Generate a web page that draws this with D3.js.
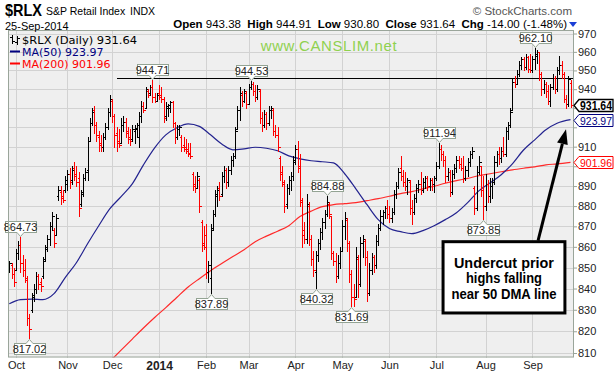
<!DOCTYPE html>
<html><head><meta charset="utf-8">
<script src="https://cdnjs.cloudflare.com/ajax/libs/d3/7.8.5/d3.min.js"></script>
<style>body{margin:0;background:#fff;}svg{display:block;}</style>
</head><body>
<svg id="c" width="616" height="374"></svg>
<script>
// ---- DATA (daily bars, 26-Sep-2013 .. 25-Sep-2014) ----
const opens = [850,851,847,849,857,861,852,849,844,826,830,836,840,846,843,846,854,860,864,870,868,866,885,887,885,888,891,896,893,899,896,894,881,887,894,898,913,922,929,921,915,912,910,915,920,928,934,926,917,913,912,921,923,918,915,914,918,919,915,926,931,930,939,938,941,936,934,938,937,935,926,930,930,933,922,915,919,915,911,910,909,907,896,891,889,893,872,862,866,848,845,869,876,885,889,886,895,898,892,898,903,905,919,929,937,934,938,932,941,943,939,936,939,925,921,927,922,929,929,918,916,904,897,891,881,889,893,895,902,909,900,882,868,864,880,864,854,848,856,862,867,872,876,881,875,857,853,846,852,858,870,873,862,847,836,836,854,842,862,863,855,838,849,855,851,863,869,875,877,879,876,874,877,886,890,899,895,892,890,892,879,877,884,889,891,888,892,894,890,893,891,894,900,909,906,903,895,897,887,896,899,903,901,899,894,898,902,906,889,879,897,900,888,880,891,885,890,892,902,906,904,908,906,918,921,929,944,943,948,953,956,952,957,951,950,956,958,960,948,940,943,939,934,941,946,940,950,953,948,935,932,943.38];
const highs = [853,852,850,859,863,864.73,856,854,846,828,838,842,848,847,845,855,861,866,872,877,869,876,890,890,888,895,898,899,900,902,900,897,888,896,899,915,925,930,931,923,918,916,917,922,930,937,935,927,920,919,925,926,925,920,919,921,921,922,928,934,933,941,940,942,944.71,938,938,942,941,936,933,932,934,934,923,921,921,916,915,914,912,912,897,895,897,894,873,870,871,853,871,878,888,890,892,897,900,899,900,905,907,920,931,941,939,940,939,943,944.53,944,942,942,940,928,929,928,931,931,930,921,920,905,900,893,891,895,897,905,911,913,906,884,872,886,882,866,858,858,864,869,874,878,884.88,882,875,858,857,856,860,873,877,874,863,849,842,860,856,865,866,864,858,852,857,856,866,871,878,878,880,883,880,879,888,892,899,905,898,897,894,893,883,886,891,893,897,894,895,895,894,894,895,902,911.94,911,908,905,899,898,898,901,905,905,904,905,900,904,908,910,890,900,905,900,895,896,893,894,894,905,908,910,910,915,920,923,930,946,947,950,955,957,957,959,958,959,958,962.10,961,960,949,945,944,942,943,948,947,952,958,955,949,937,947,944.91];
const lows = [848,845,841,849,854,848,846,843,823,817.02,829,834,838,840,839,845,853,858,861,868,860,866,883,881,882,887,888,889,891,893,890,875,880,885,893,893,913,921,917,913,908,908,908,914,919,926,923,910,908,910,912,918,915,912,911,913,912,915,910,923,928,930,936,937,933,933,934,935,933,923,924,926,928,920,912,914,916,908,908,907,905,904,888,887,889,877,858,859,845,843,837.89,868,875,880,883,885,892,889,890,896,900,904,919,924,931,933,930,932,940,937,934,935,922,918,920,919,921,925,916,915,908,893,890,877,879,886,888,893,901,897,880,860,862,862,861,851,846,840.32,853,859,864,869,875,874,854,851,843,845,850,858,864,858,843,831.69,832,836,836,841,855,851,834,837,847,848,850,861,868,871,874,874,872,872,876,884,889,893,890,888,886,876,871,876,882,887,886,887,889,888,888,888,887,893,899,903,900,892,893,885,886,894,897,899,898,892,893,895,900,904,876,878,896,885,873.85,878,882,882,884,891,900,901,902,905,905,914,920,929,941,943,947,951,950,951,949,949,949,951,954,945,937,938,936,932,931,940,938,939,948,946,933,930,931,930.80];
const closes = [852,847,843,857,861,852,849,845,826,821,837,840,846,842,841,853,859,864,870,875,862,874,888,884,883,893,896,892,898,895,892,879,886,894,897,913,922,928,921,916,911,910,915,920,928,935,926,916,912,911,921,923,917,914,913,919,919.5,921,926,931,929,940,937,941,936,934,937,936,935,925,931,931.5,933,922,915,919,920,910,909,908,906,905,890,889,895,880,861,860,848,851,868,876,886,888,885,895,898,892,898,903,905,918,929,938,934,939,932,941,943,939,936,940,925,921,927,922,929,930,918,916,910,896,892,880,889,893,895,903,909,899,883,866,864,881,864,854,849,856,862,867,872,876,882,876,857,853,846,852,858,870,874,862,847,836,835,855,842,862,864,855,838,849,855,851,863,869,875,877,879,876,874,877,886,890,897,895,892,890,893,879,877,884,889,891,888,892,894,890,893,891,894,900,909,906,903,895,897,887,896,899,903,901,899,894,898,902,906,908,879,897,902,888,880,891,885,890,892,902,906,904,908,906,918,921,928,944,943,948,953,956,952,957,951,950,956,959,960,948,940,943,939,934,941,946,940,950,953,948,935,932,945.64,931.64];

const monthLabels = ["Oct","Nov","Dec","2014","Feb","Mar","Apr","May","Jun","Jul","Aug","Sep"];
const monthStarts = [3,26,46,67,88,107,128,149,170,191,213,234];
const yTicks = [810,820,830,840,850,860,870,880,890,900,910,920,930,940,950,960,970];

const ma50Idx = [0,5,10,15,20,25,30,35,40,45,50,55,60,65,70,75,80,85,90,95,100,105,110,115,120,125,130,135,140,145,150,155,160,165,170,175,180,185,190,195,200,205,210,215,220,225,230,235,240,245,251];
const ma50Vals = [832.8,834.8,835.0,834.8,837.6,845.2,852.3,861.5,870.3,878.7,884.7,891.1,900.7,909.4,916.1,919.8,921.8,920.5,916.1,911.4,908.4,908.9,909.7,909.2,907.9,905.3,903.8,902.8,902.3,901.7,896.2,888.6,880.7,873.3,868.9,867.4,866.4,867.9,870.3,873.3,876.7,881.7,887.6,891.6,895.7,901.2,908.3,913.5,918.7,922.1,923.97];
const ma200Idx = [45,50,55,60,65,70,75,80,85,90,95,100,105,110,115,120,125,130,135,140,145,150,155,160,165,170,175,180,185,190,195,200,205,210,215,220,225,230,235,240,245,251];
const ma200Vals = [806.2,811.3,816.4,821.5,826.4,831.0,835.9,840.7,844.7,848.5,851.9,855.3,858.6,862.5,865.2,867.6,870.3,874.8,877.5,879.7,880.7,881.2,881.7,882.7,883.7,884.9,886.2,887.2,888.6,889.9,891.4,892.7,893.9,895.2,896.2,897.2,898.2,899.0,899.7,900.7,901.2,901.96];

const calloutIdx = [5,9,64,90,108,137,142,153,192,212,235];
const calloutSide = ["high","low","high","low","high","low","high","low","high","low","high"];

const resistanceLevel = 945.8, resistanceFrom = 48;
const lastClose = 931.64, lastMA50 = 923.97, lastMA200 = 901.96;

// ---- CHART ----
const svg = d3.select("#c");
const P = {l:8, r:574, t:30, b:357.5};
const x = d3.scaleLinear().domain([0,251]).range([9.3,570.5]);
const y = d3.scaleLog().domain([810,970]).range([353,33.5]);
const font = "Arial, 'Liberation Sans', sans-serif";

svg.append("rect").attr("width",616).attr("height",374).attr("fill","#fff");
svg.append("rect").attr("x",P.l).attr("y",P.t).attr("width",P.r-P.l).attr("height",P.b-P.t).attr("fill","#efefef");

svg.append("defs").append("clipPath").attr("id","pc").append("rect")
  .attr("x",P.l).attr("y",P.t).attr("width",P.r-P.l).attr("height",P.b-P.t);

const grid = svg.append("g").attr("stroke","#d2d2d2").attr("stroke-width",1).attr("shape-rendering","crispEdges");
grid.selectAll(".h").data(yTicks).join("line")
  .attr("x1",P.l).attr("x2",P.r).attr("y1",d=>Math.round(y(d))+0.5).attr("y2",d=>Math.round(y(d))+0.5);
grid.selectAll(".v").data(monthStarts).join("line")
  .attr("y1",P.t).attr("y2",P.b).attr("x1",d=>Math.round(x(d))+0.5).attr("x2",d=>Math.round(x(d))+0.5);

// tick labels that sit under the value tags are covered in the reference
const tagVals = [lastClose, lastMA50, lastMA200];
const labelTicks = yTicks.filter(t => tagVals.every(v => Math.abs(y(t)-y(v)) > 9));

const yAx = svg.append("g").attr("transform",`translate(${P.r},0)`)
  .call(d3.axisRight(y).tickValues(yTicks).tickFormat(d => labelTicks.includes(d) ? d3.format("d")(d) : "").tickSize(3).tickPadding(1));
yAx.select(".domain").remove();
yAx.selectAll("line").attr("stroke","#9aa59a");
yAx.selectAll("text").attr("font-family",font).attr("font-size",11).attr("fill","#222");
yAx.selectAll("text").filter(function(){return this.textContent==="";}).remove();

// x axis labels
const xAx = svg.append("g").attr("transform",`translate(0,${P.b})`)
  .call(d3.axisBottom(x).tickValues(monthStarts).tickFormat((d,i)=>monthLabels[i]).tickSize(0).tickPadding(4));
xAx.select(".domain").remove();
xAx.selectAll("text").attr("font-family",font).attr("fill","#222")
  .attr("font-weight",(d,i)=>monthLabels[i]==="2014"?"bold":"normal")
  .attr("font-size",(d,i)=>monthLabels[i]==="2014"?12:11);

const plotG = svg.append("g").attr("clip-path","url(#pc)");

// MA lines
const maLine = (idx) => d3.line().x((d,i)=>x(idx[i])).y(d=>y(d)).curve(d3.curveMonotoneX);
plotG.append("path").attr("d",maLine(ma200Idx)(ma200Vals)).attr("fill","none").attr("stroke","#ff2a2a").attr("stroke-width",1.2);
plotG.append("path").attr("d",maLine(ma50Idx)(ma50Vals)).attr("fill","none").attr("stroke","#23238f").attr("stroke-width",1.2);

// resistance line
plotG.append("line").attr("x1",x(resistanceFrom)).attr("x2",P.r)
  .attr("y1",Math.round(y(resistanceLevel))+0.5).attr("y2",Math.round(y(resistanceLevel))+0.5)
  .attr("stroke","#000").attr("stroke-width",1).attr("shape-rendering","crispEdges");

// OHLC bars
const bars = plotG.append("g").attr("shape-rendering","crispEdges");
closes.forEach((c,i)=>{
  const col = (i===0 || c>=closes[i-1]) ? "#000" : "#ff0000";
  const xi = Math.round(x(i))+0.5;
  const g = bars.append("g").attr("stroke",col).attr("stroke-width",1);
  g.append("line").attr("x1",xi).attr("x2",xi).attr("y1",Math.round(y(highs[i]))).attr("y2",Math.round(y(lows[i]))+1);
  g.append("line").attr("x1",xi-2).attr("x2",xi).attr("y1",Math.round(y(opens[i]))+0.5).attr("y2",Math.round(y(opens[i]))+0.5);
  g.append("line").attr("x1",xi).attr("x2",xi+2.5).attr("y1",Math.round(y(c))+0.5).attr("y2",Math.round(y(c))+0.5);
});

// callouts
const cg = svg.append("g");
calloutIdx.forEach((j,k)=>{
  const up = calloutSide[k]==="high";
  const v = up ? highs[j] : lows[j];
  const label = v.toFixed(2);
  const cx = Math.round(x(j))+0.5;
  const tip = up ? y(v)-1 : y(v)+1;
  const bh = 11, bw = 31;
  const by = up ? tip-4-bh : tip+4;
  const g = cg.append("g");
  const bx = Math.round(cx-bw/2)+0.5, byr = Math.round(by)+0.5;
  g.append("rect").attr("x",bx).attr("y",byr).attr("width",bw).attr("height",bh)
    .attr("fill","#fff").attr("stroke","#93a393");
  const ey = up ? byr+bh : byr;
  g.append("path").attr("d",`M${cx-3.5},${ey} L${cx},${up?ey+4:ey-4} L${cx+3.5},${ey}`)
    .attr("fill","#fff").attr("stroke","#93a393");
  g.append("line").attr("x1",cx-3).attr("x2",cx+3).attr("y1",ey).attr("y2",ey).attr("stroke","#fff").attr("stroke-width",1.2);
  g.append("text").attr("x",cx).attr("y",byr+bh/2+4).attr("text-anchor","middle")
    .attr("font-family",font).attr("font-size",11).attr("fill","#222").text(label);
});

// frame
svg.append("rect").attr("x",P.l+0.5).attr("y",P.t+0.5).attr("width",P.r-P.l-1).attr("height",P.b-P.t-1)
  .attr("fill","none").attr("stroke","#9aa59a");

// right value tags
function tag(val, color, bold, borderW){
  const yy = Math.round(y(val))+0.5, h=12, x0=574, x1=579, x2=613;
  svg.append("path").attr("d",`M${x0},${yy} L${x1},${yy-h/2} L${x2},${yy-h/2} L${x2},${yy+h/2} L${x1},${yy+h/2} Z`)
    .attr("fill","#fff").attr("stroke",color).attr("stroke-width",borderW);
  svg.append("text").attr("x",x1+1).attr("y",yy+4.5).attr("font-family",font).attr("font-size",bold?12:11.5)
    .attr("font-weight",bold?"bold":"normal").attr("fill",color).attr("textLength",32).attr("lengthAdjust","spacingAndGlyphs")
    .text(val.toFixed(2));
}
tag(lastMA200,"#ff0000",false,1);
tag(lastMA50,"#000080",false,1);
tag(lastClose,"#000",true,1.3);

// annotation box + arrow
const ann = svg.append("g");
const bx0 = x(194), bx1 = x(248.5), by0 = y(862.5), by1 = y(828.5);
ann.append("rect").attr("x",bx0).attr("y",by0).attr("width",bx1-bx0).attr("height",by1-by0)
  .attr("fill","#fff").attr("stroke","#000").attr("stroke-width",3);
const lines = ["Undercut prior","highs falling","near 50 DMA line"];
const lw = [100,76,105];
lines.forEach((t,i)=>{
  ann.append("text").attr("x",(bx0+bx1)/2).attr("y",by0+26+i*15.7).attr("text-anchor","middle")
    .attr("font-family",font).attr("font-weight","bold").attr("font-size",15).attr("fill","#000")
    .attr("textLength",lw[i]).attr("lengthAdjust","spacingAndGlyphs").text(t);
});
const ax0 = x(236.5), ay0 = by0-1, ax1 = x(249), ay1 = y(919);
const ang = Math.atan2(ay1-ay0, ax1-ax0);
const hl = 15, hw = 5.5;
const bxp = ax1 - hl*Math.cos(ang), byp = ay1 - hl*Math.sin(ang);
ann.append("line").attr("x1",ax0).attr("y1",ay0).attr("x2",bxp).attr("y2",byp).attr("stroke","#000").attr("stroke-width",3);
ann.append("path").attr("d",`M${ax1},${ay1} L${bxp+hw*Math.sin(ang)},${byp-hw*Math.cos(ang)} L${bxp-hw*Math.sin(ang)},${byp+hw*Math.cos(ang)} Z`).attr("fill","#000");

// legend
const lg = svg.append("g").attr("font-family","'DejaVu Sans', Verdana, sans-serif").attr("font-size",11);
const ic = lg.append("g").attr("stroke","#000").attr("stroke-width",1).attr("shape-rendering","crispEdges");
ic.append("line").attr("x1",12.5).attr("x2",12.5).attr("y1",35).attr("y2",44);
ic.append("line").attr("x1",10).attr("x2",12.5).attr("y1",37.5).attr("y2",37.5);
ic.append("line").attr("x1",12.5).attr("x2",15).attr("y1",41.5).attr("y2",41.5);
ic.append("line").attr("x1",17.5).attr("x2",17.5).attr("y1",36).attr("y2",45);
ic.append("line").attr("x1",15).attr("x2",17.5).attr("y1",42.5).attr("y2",42.5);
ic.append("line").attr("x1",17.5).attr("x2",20).attr("y1",38.5).attr("y2",38.5);
lg.append("text").attr("x",22).attr("y",44).attr("fill","#000").attr("textLength",115).attr("lengthAdjust","spacingAndGlyphs").text("$RLX (Daily) 931.64");
lg.append("line").attr("x1",10).attr("x2",20).attr("y1",51.5).attr("y2",51.5).attr("stroke","#000080").attr("stroke-width",2);
lg.append("text").attr("x",22).attr("y",56).attr("fill","#000080").text("MA(50) 923.97");
lg.append("line").attr("x1",10).attr("x2",20).attr("y1",63.5).attr("y2",63.5).attr("stroke","#ff0000").attr("stroke-width",2);
lg.append("text").attr("x",22).attr("y",68).attr("fill","#ff0000").text("MA(200) 901.96");

// watermark
svg.append("text").attr("x",329).attr("y",51).attr("text-anchor","middle").attr("font-family",font)
  .attr("font-size",15).attr("fill","#8fd14f").attr("letter-spacing",0.6).text("www.CANSLIM.net");

// header
const hd = svg.append("g").attr("font-family",font);
hd.append("text").attr("x",5).attr("y",15.5).attr("font-size",17).attr("font-weight","bold").attr("fill","#000")
  .attr("textLength",37).attr("lengthAdjust","spacingAndGlyphs").text("$RLX");
hd.append("text").attr("x",46).attr("y",15).attr("font-size",10.5).attr("fill","#000").text("S&P Retail Index");
hd.append("text").attr("x",130).attr("y",15).attr("font-size",10.5).attr("fill","#000").text("INDX");
hd.append("text").attr("x",5).attr("y",29.5).attr("font-size",11).attr("fill","#000").text("25-Sep-2014");
hd.append("text").attr("x",572).attr("y",15).attr("text-anchor","end").attr("font-size",11.5).attr("fill","#555").text("© StockCharts.com");
const q = hd.append("text").attr("x",567).attr("y",28).attr("text-anchor","end").attr("font-size",11.5).attr("fill","#000");
[["Open",1],[" 943.38  ",0],["High",1],[" 944.91  ",0],["Low",1],[" 930.80  ",0],["Close",1],[" 931.64  ",0],["Chg",1],[" -14.00 (-1.48%)",0]]
  .forEach(([t,b])=>q.append("tspan").attr("font-weight",b?"bold":"normal").attr("xml:space","preserve").text(t));
hd.append("path").attr("d","M569,22 L577,22 L573,27 Z").attr("fill","#1a3fd6");
</script>
</body></html>
